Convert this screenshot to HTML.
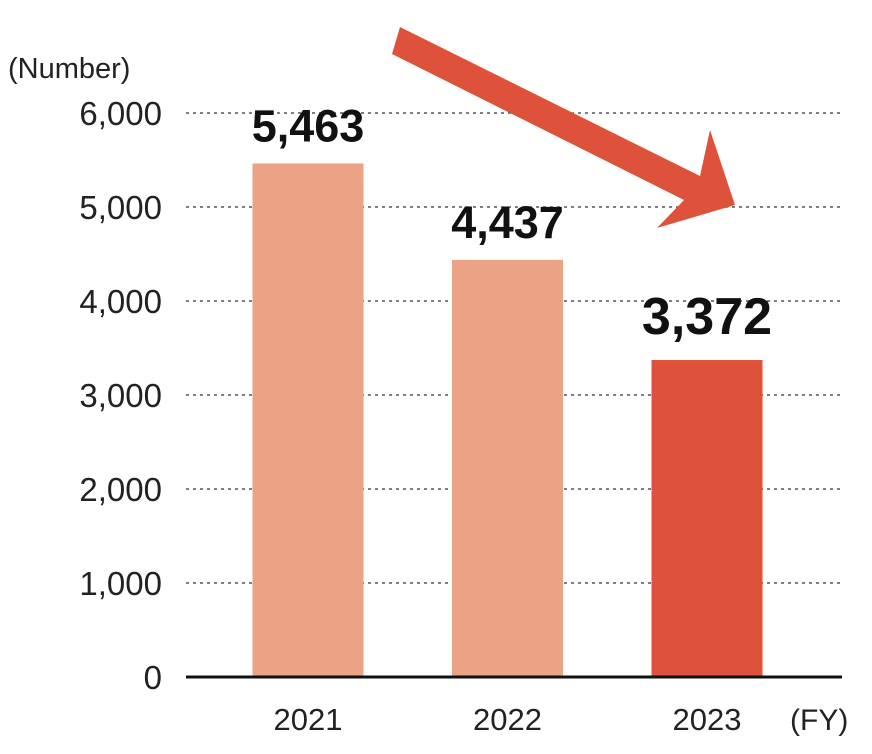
<!DOCTYPE html>
<html><head><meta charset="utf-8"><style>
html,body{margin:0;padding:0;background:#fff;}
svg{display:block;font-family:"Liberation Sans",sans-serif;}
</style></head><body>
<svg id="chart" width="872" height="754" viewBox="0 0 872 754">
<text x="8" y="78" font-size="29" fill="#222">(Number)</text>
<g id="grid"></g>
<g id="bars"></g>
<polygon points="400,27 700,176 710,130 735,205 657,228 684,200 392,54" fill="#DE513A"/>
<line x1="186" y1="677" x2="842" y2="677" stroke="#111" stroke-width="3"/>
<text x="790" y="730" font-size="30" fill="#222">(FY)</text>
</svg>
<script>
const categories = ["2021","2022","2023"];
const values = [5463, 4437, 3372];
const valueLabels = ["5,463","4,437","3,372"];
const yTicks = [0,1000,2000,3000,4000,5000,6000];
const yTickLabels = ["0","1,000","2,000","3,000","4,000","5,000","6,000"];
const barColors = ["#EBA386","#EBA386","#DE513A"];

const NS="http://www.w3.org/2000/svg";
const y0=677, pxPer=94/1000;
const yScale=v=>y0-v*pxPer;
const xCenter=i=>308+i*199.5;
const barW=111;
const grid=document.getElementById('grid');
const bars=document.getElementById('bars');
function mk(tag,attrs){const e=document.createElementNS(NS,tag);for(const k in attrs)e.setAttribute(k,attrs[k]);return e;}
yTicks.forEach((t,i)=>{
  const y=yScale(t);
  if(t>0){
    const l=mk('line',{x1:186,x2:842,y1:y,y2:y,stroke:'#333','stroke-width':1.3,'stroke-dasharray':'3,4'});
    
    
    grid.appendChild(l);
  }
  const tx=mk('text',{x:162,y:y+12,'font-size':33,'text-anchor':'end',fill:'#222'});
  tx.textContent=yTickLabels[i];
  
  
  grid.appendChild(tx);
});
categories.forEach((c,i)=>{
  const cx=xCenter(i), top=yScale(values[i]);
  const r=mk('rect',{x:cx-barW/2,y:top,width:barW,height:y0-top,fill:barColors[i]});
  
  
  bars.appendChild(r);
  const big=i===categories.length-1;
  const lb=mk('text',{x:cx,y:top-(big?26:22),'font-size':big?52:45,'font-weight':'bold','text-anchor':'middle',fill:'#111'});
  lb.textContent=valueLabels[i];
  
  
  bars.appendChild(lb);
  const xl=mk('text',{x:cx,y:730,'font-size':31,'text-anchor':'middle',fill:'#222'});
  xl.textContent=c;
  
  
  bars.appendChild(xl);
});
</script>
</body></html>
